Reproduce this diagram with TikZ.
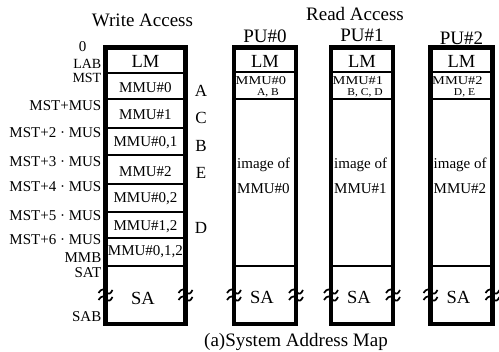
\documentclass[tikz,border=0pt]{standalone}
\usepackage{fontspec}
\setmainfont{Liberation Serif}
\begin{document}
\begin{tikzpicture}[x=1pt,y=-1pt]
\useasboundingbox (0,0) rectangle (499,352);
\tikzset{
  col/.style={draw, line width=4.8pt, minimum height=276.5pt, inner sep=0, outer sep=0},
  divider/.style={line width=1.8pt},
  title/.style={font=\fontsize{19}{22}\selectfont, inner sep=0},
  big/.style={font=\fontsize{18.5}{22}\selectfont, inner sep=0},
  boxlbl/.style={font=\fontsize{15}{18}\selectfont, inner sep=0, anchor=base},
  addr/.style={font=\fontsize{15}{18}\selectfont, inner sep=0, anchor=east},
  tightaddr/.style={font=\fontsize{14}{16}\selectfont, inner sep=0, anchor=east},
  letter/.style={font=\fontsize{17}{20}\selectfont, inner sep=0},
  small/.style={inner sep=0},
  img/.style={font=\fontsize{15}{18}\selectfont, inner sep=0, anchor=base west},
  brkmark/.pic={
    \draw[line width=1.7pt] (-7,-1) .. controls (-4,-6) and (-1,-5) .. (1,-2) .. controls (3,1) and (5,0) .. (7,-4);
    \draw[line width=1.7pt] (-7,6) .. controls (-4,1) and (-1,2) .. (1,5) .. controls (3,8) and (5,7) .. (7,3);
  }
}
% titles
\node[title] (tw) at (142.5,20) {Write Access};
\node[title] (tr) at (355,14.5) {Read Access};
\node[title] (cap) at (296,342) {(a)System Address Map};

% write column
\node[col, minimum width=80pt] (W) at (145.5,185.75) {};
\foreach \yy in {73,99,128,155,184,212,238,266}
  \draw[divider] (W.west |- 0,\yy) -- (W.east |- 0,\yy);
\node[big] (wlm) at (145.5,61) {LM};
\node[boxlbl] (w0) at (145.5,93) {MMU\#0};
\node[boxlbl] (w1) at (145.5,120) {MMU\#1};
\node[boxlbl] (w01) at (145.5,147) {MMU\#0,1};
\node[boxlbl] (w2) at (145.5,177) {MMU\#2};
\node[boxlbl] (w02) at (145.5,203) {MMU\#0,2};
\node[boxlbl] (w12) at (145.5,231) {MMU\#1,2};
\node[boxlbl] (w012) at (145.5,256) {MMU\#0,1,2};
\node[big] (wsa) at (143,298) {SA};
\path (W.west |- 0,294) pic {brkmark};
\path (W.east |- 0,294) pic {brkmark};

% address labels
\node[addr, anchor=center] (a0) at (82.5,46.5) {0};
\node[tightaddr] (alab) at (101.5,64) {LAB};
\node[tightaddr] (amst) at (101.5,77.5) {MST};
\node[addr] (a1) at (101.5,105.5) {MST+MUS};
\node[addr] (a2) at (101.5,133) {MST+2 · MUS};
\node[addr] (a3) at (101.5,162) {MST+3 · MUS};
\node[addr] (a4) at (101.5,187) {MST+4 · MUS};
\node[addr] (a5) at (101.5,216) {MST+5 · MUS};
\node[addr] (a6) at (101.5,240) {MST+6 · MUS};
\node[addr] (ammb) at (101.5,258) {MMB};
\node[addr] (asat) at (101.5,273) {SAT};
\node[addr] (asab) at (101.5,317) {SAB};

% letters
\node[letter] (lA) at (201,91) {A};
\node[letter] (lC) at (201,118) {C};
\node[letter] (lB) at (201,146) {B};
\node[letter] (lE) at (201,172.5) {E};
\node[letter] (lD) at (201,227.5) {D};

% read columns
\foreach \cx/\k/\pl/\py in {265/0/{A, B}/36, 362/1/{B, C, D}/35.5, 461.5/2/{D, E}/38} {
  \node[col, minimum width=62pt] (P\k) at (\cx,185.75) {};
  \foreach \yy in {72,99,266}
    \draw[divider] (P\k.west |- 0,\yy) -- (P\k.east |- 0,\yy);
  \node[title] (pu\k) at (\cx,\py) {PU\#\k};
  \node[big] (plm\k) at (\cx,61) {LM};
  \node[small, anchor=west] (pm\k) at ([xshift=1.5pt]P\k.west |- 0,81) {\scalebox{1.2}[1]{\fontsize{12}{13}\selectfont MMU\#\k}};
  \node[small] (pl\k) at ([xshift=3pt]P\k.center |- 0,92.5) {\scalebox{1.1}[1]{\fontsize{10.5}{12}\selectfont \pl}};
  \node[img] (pi\k) at ([xshift=3pt]P\k.west |- 0,169) {image of};
  \node[img] (pj\k) at ([xshift=3pt]P\k.west |- 0,194) {MMU\#\k};
  \node[big] (psa\k) at ([xshift=-3pt]P\k.center |- 0,297.5) {SA};
  \path (P\k.west |- 0,294) pic {brkmark};
  \path (P\k.east |- 0,294) pic {brkmark};
}
\end{tikzpicture}
\end{document}
